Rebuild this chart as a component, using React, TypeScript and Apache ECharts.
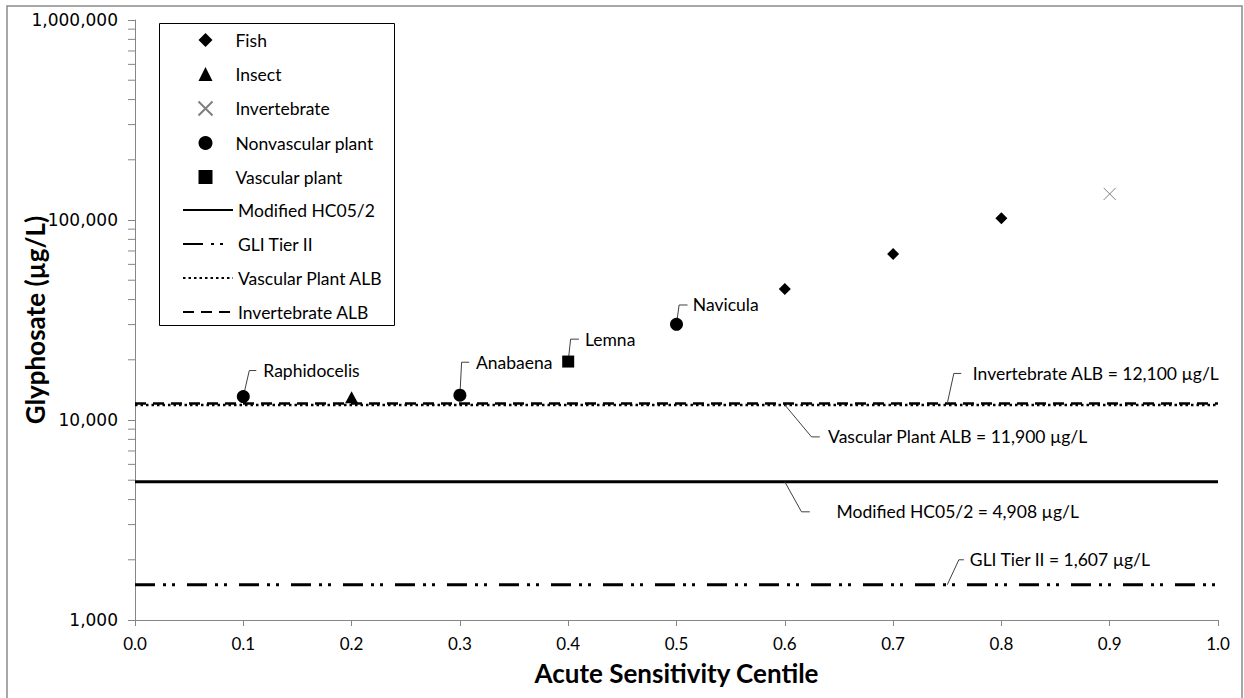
import React, { useEffect, useRef } from "react";
import * as echarts from "echarts";

// ---- data ----
const fishX = [0.6, 0.7, 0.8];
const fishY = [45200, 67600, 102000];
const insectX = [0.2];
const insectY = [13000];
const invertX = [0.9];
const invertY = [135000];
const nonvascX = [0.1, 0.3, 0.5];
const nonvascY = [13100, 13300, 30100];
const vascX = [0.4];
const vascY = [19600];

const hc05Value = 4908;
const gliValue = 1500;
const vascAlbValue = 11900;
const invAlbValue = 12100;

const xTicks = [0, 0.1, 0.2, 0.3, 0.4, 0.5, 0.6, 0.7, 0.8, 0.9, 1.0];
const yDecades = [1000, 10000, 100000];
const minorMultipliers = [2, 3, 4, 5, 6, 7, 8, 9];

const markerLegendNames = ["Fish", "Insect", "Invertebrate", "Nonvascular plant", "Vascular plant"];
const lineLegendNames = ["Modified HC05/2", "GLI Tier II", "Vascular Plant ALB", "Invertebrate ALB"];

const annotationLabels = [
  "Raphidocelis",
  "Anabaena",
  "Lemna",
  "Navicula",
  "Invertebrate ALB = 12,100 µg/L",
  "Vascular Plant ALB = 11,900 µg/L",
  "Modified HC05/2 = 4,908 µg/L",
  "GLI Tier II = 1,607 µg/L",
];
const annotationX = [nonvascX[0], nonvascX[1], vascX[0], nonvascX[2], 0.75, 0.6, 0.6, 0.75];
const annotationY = [nonvascY[0], nonvascY[1], vascY[0], nonvascY[2], invAlbValue, vascAlbValue, hc05Value, gliValue];

// callout leader geometry (pixel offsets, style only)
const calloutLayout = [
  { dx: 6, dy: -26, hook: 7, gap: 7 },
  { dx: 1.7, dy: -33, hook: 7.6, gap: 6.7 },
  { dx: 2.4, dy: -22.4, hook: 8.3, gap: 6 },
  { dx: 2.6, dy: -19.3, hook: 8.4, gap: 5.3 },
  { dx: 6.6, dy: -30, hook: 7.4, gap: 11.6 },
  { dx: 26.7, dy: 32, hook: 8.3, gap: 8.3 },
  { dx: 16.7, dy: 30, hook: 8.3, gap: 26.7 },
  { dx: 11.6, dy: -25, hook: 5, gap: 6 },
];

const FONT = "Lato, 'Open Sans', sans-serif";
const AXIS_GRAY = "#868686";
const LABEL_SIZE = 17.5;

function zip(xs: number[], ys: number[]) {
  return xs.map((x, i) => [x, ys[i]]);
}

export default function App() {
  const ref = useRef<HTMLDivElement>(null);

  useEffect(() => {
    document.body.style.margin = "0";
    const chart = echarts.init(ref.current!, null, { renderer: "svg" });

    const minorTickValues: number[][] = [];
    yDecades.forEach((d) => minorMultipliers.forEach((m) => minorTickValues.push([0, d * m])));

    const lineSeries = (name: string, value: number, lineStyle: any) => ({
      name,
      type: "line",
      data: [
        [xTicks[0], value],
        [xTicks[xTicks.length - 1], value],
      ],
      symbol: "none",
      showSymbol: false,
      itemStyle: { color: "transparent", borderColor: "transparent" },
      lineStyle: { color: "#000", ...lineStyle },
      z: 2,
      silent: true,
    });

    const scatter = (name: string, xs: number[], ys: number[], extra: any) => ({
      name,
      type: "scatter",
      data: zip(xs, ys),
      z: 4,
      ...extra,
    });

    const legendCommon = {
      orient: "vertical",
      padding: 0,
      itemGap: 16,
      itemHeight: 14,
      selectedMode: false,
      z: 10,
      textStyle: { fontSize: LABEL_SIZE, color: "#000", fontFamily: FONT },
    };

    const option: any = {
      animation: false,
      backgroundColor: "#fff",
      textStyle: { fontFamily: FONT },
      grid: { left: 135, right: 26, top: 20, bottom: 78, containLabel: false, outerBoundsMode: "none" },
      legend: [
        {
          ...legendCommon,
          left: 196,
          top: 31,
          itemWidth: 14,
          textStyle: { ...legendCommon.textStyle, padding: [0, 0, 0, 18] },
          data: [
            { name: markerLegendNames[0], icon: "diamond" },
            { name: markerLegendNames[1], icon: "triangle" },
            { name: markerLegendNames[2] },
            { name: markerLegendNames[3], icon: "circle" },
            { name: markerLegendNames[4], icon: "rect" },
          ],
        },
        {
          ...legendCommon,
          left: 182,
          top: 201,
          itemWidth: 50,
          data: lineLegendNames,
        },
      ],
      graphic: [
        {
          type: "rect",
          shape: { x: 7, y: 6, width: 1235, height: 710 },
          style: { fill: "none", stroke: "#8a8a8a", lineWidth: 1.5 },
          silent: true,
          z: -10,
        },
        {
          type: "rect",
          shape: { x: 159.5, y: 23.5, width: 235, height: 302 },
          style: { fill: "#fff", stroke: "#000", lineWidth: 1 },
          silent: true,
          z: 1,
        },
      ],
      xAxis: {
        type: "value",
        min: 0,
        max: 1,
        interval: 0.1,
        name: "Acute Sensitivity Centile",
        nameLocation: "middle",
        nameGap: 40,
        nameMoveOverlap: false,
        nameTextStyle: { fontSize: 26, fontWeight: "bold", color: "#000", fontFamily: FONT },
        axisLine: { show: true, lineStyle: { color: AXIS_GRAY, width: 1 } },
        axisTick: { show: true, length: 6, lineStyle: { color: AXIS_GRAY } },
        axisLabel: {
          margin: 15,
          fontSize: 17,
          color: "#000",
          fontFamily: FONT,
          formatter: (v: number) => v.toFixed(1),
        },
        splitLine: { show: false },
      },
      yAxis: {
        type: "log",
        logBase: 10,
        min: 1000,
        max: 1000000,
        splitNumber: 3,
        name: "Glyphosate (µg/L)",
        nameLocation: "middle",
        nameGap: 87,
        nameMoveOverlap: false,
        nameTextStyle: { fontSize: 26, fontWeight: "bold", color: "#000", fontFamily: FONT },
        axisLine: { show: true, lineStyle: { color: AXIS_GRAY, width: 1 } },
        axisTick: { show: true, length: 7, lineStyle: { color: AXIS_GRAY } },
        axisLabel: {
          margin: 17,
          fontSize: 17,
          color: "#000",
          fontFamily: "'DejaVu Sans', Verdana, sans-serif",
          formatter: (v: number) => Number(v).toLocaleString("en-US"),
        },
        splitLine: { show: false },
      },
      series: [
        scatter("Fish", fishX, fishY, {
          symbol: "diamond",
          symbolSize: 12,
          itemStyle: { color: "#000", opacity: 1 },
        }),
        scatter("Insect", insectX, insectY, {
          symbol: "triangle",
          symbolSize: [13, 12],
          itemStyle: { color: "#000", opacity: 1 },
        }),
        scatter("Invertebrate", invertX, invertY, {
          symbol: "path://M0,0L10,10M0,10L10,0",
          symbolSize: 12,
          itemStyle: { color: "none", borderColor: "#7f7f7f", borderWidth: 1, opacity: 1 },
        }),
        scatter("Nonvascular plant", nonvascX, nonvascY, {
          symbol: "circle",
          symbolSize: 13,
          itemStyle: { color: "#000", opacity: 1 },
        }),
        scatter("Vascular plant", vascX, vascY, {
          symbol: "rect",
          symbolSize: 12,
          itemStyle: { color: "#000", opacity: 1 },
        }),
        lineSeries("Modified HC05/2", hc05Value, { width: 3, type: "solid" }),
        lineSeries("GLI Tier II", gliValue, { width: 3, type: [20, 8, 3, 6, 3, 12] }),
        lineSeries("Vascular Plant ALB", vascAlbValue, { width: 2.5, type: [2.5, 3] }),
        lineSeries("Invertebrate ALB", invAlbValue, { width: 2.5, type: [11, 7] }),
        {
          name: "minorTicks",
          type: "custom",
          coordinateSystem: "cartesian2d",
          data: minorTickValues,
          silent: true,
          z: 1,
          renderItem: (params: any, api: any) => {
            const p = api.coord([api.value(0), api.value(1)]);
            return {
              type: "line",
              shape: { x1: p[0] - 7, y1: p[1], x2: p[0], y2: p[1] },
              style: { stroke: AXIS_GRAY, lineWidth: 1 },
            };
          },
        },
        {
          name: "callouts",
          type: "custom",
          coordinateSystem: "cartesian2d",
          data: zip(annotationX, annotationY),
          silent: true,
          z: 3,
          renderItem: (params: any, api: any) => {
            const i = params.dataIndex;
            const p = api.coord([api.value(0), api.value(1)]);
            const o = calloutLayout[i];
            const bx = p[0] + o.dx;
            const by = p[1] + o.dy;
            const ex = bx + o.hook;
            return {
              type: "group",
              children: [
                {
                  type: "polyline",
                  shape: { points: [[p[0], p[1]], [bx, by], [ex, by]] },
                  style: { stroke: "#404040", lineWidth: 1, fill: null },
                },
                {
                  type: "text",
                  style: {
                    text: annotationLabels[i],
                    x: ex + o.gap,
                    y: by,
                    verticalAlign: "middle",
                    align: "left",
                    fontSize: LABEL_SIZE,
                    fontFamily: FONT,
                    fill: "#000",
                  },
                },
              ],
            };
          },
        },
      ],
    };

    chart.setOption(option);
    return () => chart.dispose();
  }, []);

  return <div ref={ref} style={{ width: 1244, height: 698 }} />;
}
